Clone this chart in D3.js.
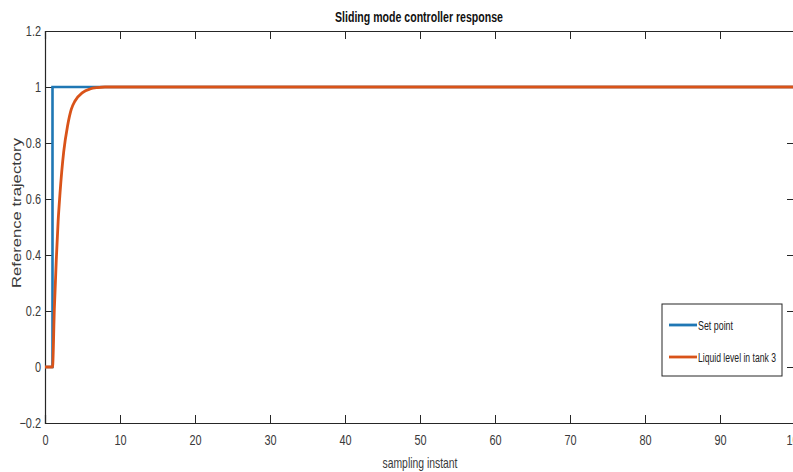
<!DOCTYPE html>
<html><head><meta charset="utf-8">
<script src="https://cdn.jsdelivr.net/npm/d3@7"></script>
<style>
body{margin:0;background:#fff;}
svg{display:block;}
text{font-family:"Liberation Sans",Arial,sans-serif;}
</style>
</head><body>
<svg id="chart" width="793" height="472"></svg>
<script>
// ---- data ----
const titleText = "Sliding mode controller response";
const xLabel = "sampling instant";
const yLabel = "Reference trajectory";
const xTicks = [0,10,20,30,40,50,60,70,80,90,100];
const yTicks = [-0.2,0,0.2,0.4,0.6,0.8,1,1.2];
const setT = [0, 1, 1, 100];
const setV = [0, 0, 1, 1];
const levelT = [0, 1, 1.25, 1.5, 1.75, 2, 2.5, 3, 3.5, 4, 5, 6, 7, 8, 100];
const levelV = [0, 0, 0.21, 0.38, 0.52, 0.62, 0.77, 0.86, 0.92, 0.95, 0.98, 0.993, 0.998, 1, 1];
const seriesNames = ["Set point", "Liquid level in tank 3"];
const colors = ["#1f77b4", "#d95319"];

const svg = d3.select("#chart");
const L = 45, R = 795, T = 31, B = 423;
const x = d3.scaleLinear().domain([0,100]).range([L,R]);
const y = d3.scaleLinear().domain([-0.2,1.2]).range([B,T]);
const axisColor = "#262626";

svg.append("defs").append("clipPath").attr("id","clip")
  .append("rect").attr("x",L).attr("y",T).attr("width",R-L).attr("height",B-T);

// axes
const fmt = d => d3.format("")(+d.toFixed(1));
const gB = svg.append("g").attr("transform",`translate(0,${B})`)
  .call(d3.axisBottom(x).tickValues(xTicks).tickSize(-8).tickPadding(12).tickFormat(fmt));
const gT = svg.append("g").attr("transform",`translate(0,${T})`)
  .call(d3.axisTop(x).tickValues(xTicks).tickSize(-8).tickFormat(""));
const gL = svg.append("g").attr("transform",`translate(${L},0)`)
  .call(d3.axisLeft(y).tickValues(yTicks).tickSize(-7).tickPadding(4).tickFormat(fmt));
const gR = svg.append("g").attr("transform",`translate(${R},0)`)
  .call(d3.axisRight(y).tickValues(yTicks).tickSize(-8).tickFormat(""));
[gB,gT,gL,gR].forEach(g=>{
  g.select(".domain").attr("stroke",axisColor).attr("stroke-width",1.2);
  g.selectAll(".tick line").attr("stroke",axisColor).attr("stroke-width",1);
  g.selectAll("text").attr("fill","#3a3a3a").attr("font-size",14).attr("font-family",null).classed("narrow",true);
});

// lines
const line = d3.line().x(d=>x(d[0])).y(d=>y(d[1]));
const plot = svg.append("g").attr("clip-path","url(#clip)");
plot.append("path").datum(setT.map((t,i)=>[t,setV[i]]))
  .attr("d", line).attr("fill","none").attr("stroke",colors[0]).attr("stroke-width",2.6);
plot.append("path").datum(levelT.map((t,i)=>[t,levelV[i]]))
  .attr("d", line.curve(d3.curveMonotoneX)).attr("fill","none").attr("stroke",colors[1]).attr("stroke-width",2.8);

// title & labels
svg.append("text").attr("x",419).attr("y",22).attr("text-anchor","middle")
  .attr("font-size",15.5).attr("font-weight","bold").attr("fill","#111")
  .attr("textLength",168).attr("lengthAdjust","spacingAndGlyphs").text(titleText);
svg.append("text").attr("x",420).attr("y",468).attr("text-anchor","middle")
  .attr("font-size",15).attr("fill","#3a3a3a")
  .attr("textLength",75).attr("lengthAdjust","spacingAndGlyphs").text(xLabel);
svg.append("text").attr("transform",`translate(21,213) rotate(-90)`).attr("text-anchor","middle")
  .attr("font-size",13).attr("fill","#3a3a3a")
  .attr("textLength",150).attr("lengthAdjust","spacingAndGlyphs").text(yLabel);

// legend
const legendW = [35, 78];
const lg = svg.append("g");
lg.append("rect").attr("x",662).attr("y",304).attr("width",120).attr("height",72)
  .attr("fill","#fff").attr("stroke",axisColor).attr("stroke-width",1);
seriesNames.forEach((n,i)=>{
  const yy = 325 + i*32;
  lg.append("line").attr("x1",669).attr("x2",697).attr("y1",yy).attr("y2",yy)
    .attr("stroke",colors[i]).attr("stroke-width",2.8);
  lg.append("text").attr("x",698).attr("y",yy+4.5)
    .attr("font-size",12.5).attr("fill","#222")
    .attr("textLength",legendW[i]).attr("lengthAdjust","spacingAndGlyphs").text(n);
});

// condense tick text (narrow font look)
svg.selectAll("text.narrow").each(function(){
  const len = this.getComputedTextLength();
  if (len > 0) d3.select(this).attr("textLength", len*0.78).attr("lengthAdjust","spacingAndGlyphs");
});
</script>
</body></html>
